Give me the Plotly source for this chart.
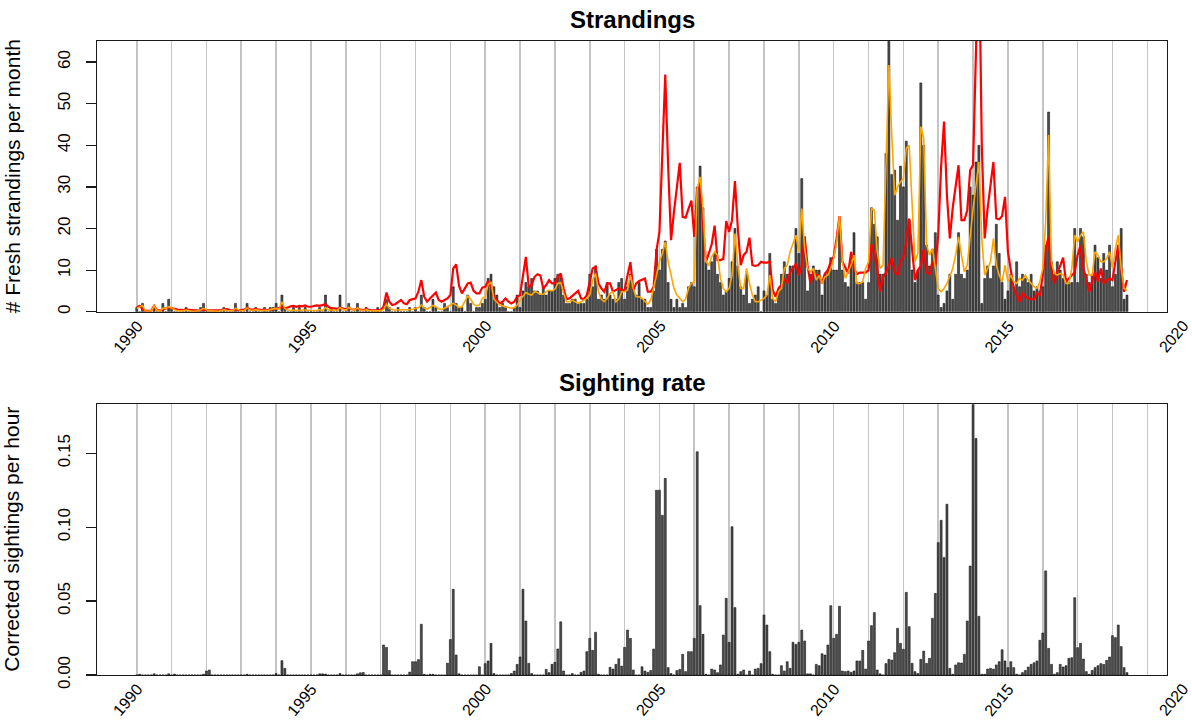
import plotly.graph_objects as go

# ---------------- data (monthly, starting January 1990) ----------------
start_year = 1990

strandings = [
    1, 0, 2, 0, 0, 0, 1, 0, 0, 2, 0, 3,        # 1990
    1, 0, 0, 0, 0, 1, 0, 0, 0, 0, 1, 2,        # 1991
    0, 0, 0, 0, 0, 0, 1, 0, 0, 0, 2, 0,        # 1992
    0, 0, 2, 0, 0, 1, 0, 0, 1, 0, 1, 1,        # 1993
    2, 0, 4, 1, 0, 0, 1, 0, 1, 0, 1, 0,        # 1994
    0, 0, 0, 1, 0, 4, 0, 1, 0, 0, 4, 0,        # 1995
    0, 2, 0, 0, 2, 0, 0, 1, 0, 0, 0, 1,        # 1996
    0, 0, 3, 1, 0, 0, 1, 0, 0, 0, 1, 0,        # 1997
    1, 0, 4, 1, 0, 0, 3, 1, 0, 0, 2, 1,        # 1998
    0, 6, 2, 1, 1, 0, 4, 2, 0, 1, 1, 2,        # 1999
    3, 8, 9, 6, 4, 1, 2, 1, 0, 0, 1, 4,        # 2000
    1, 5, 7, 6, 8, 5, 5, 4, 6, 4, 5, 5,        # 2001
    8, 9, 9, 4, 2, 2, 3, 3, 2, 2, 2, 3,        # 2002
    9, 6, 11, 3, 4, 3, 7, 4, 3, 3, 7, 8,       # 2003
    3, 6, 9, 6, 4, 7, 3, 3, 1, 1, 5, 15,       # 2004
    10, 15, 17, 7, 3, 1, 3, 1, 2, 1, 6, 7,     # 2005
    6, 30, 35, 25, 12, 10, 12, 14, 9, 7, 4, 5, # 2006
    8, 12, 20, 11, 6, 4, 9, 2, 3, 4, 6, 0,     # 2007
    5, 4, 14, 3, 2, 5, 9, 12, 9, 11, 11, 20,   # 2008
    14, 32, 18, 5, 9, 11, 10, 10, 4, 9, 10, 13,    # 2009
    10, 10, 22, 10, 7, 6, 12, 19, 7, 7, 7, 3,      # 2010
    7, 25, 21, 18, 9, 9, 38, 65, 33, 34, 22, 35,   # 2011
    30, 41, 22, 10, 7, 10, 55, 40, 16, 11, 15, 19, # 2012
    4, 1, 2, 5, 9, 3, 9, 19, 9, 8, 10, 30,         # 2013
    28, 36, 40, 2, 8, 11, 8, 11, 21, 14, 7, 3,     # 2014
    5, 9, 6, 12, 6, 9, 8, 7, 9, 5, 6, 5,           # 2015
    6, 16, 48, 12, 9, 12, 10, 8, 8, 7, 7, 20,      # 2016
    7, 20, 18, 9, 7, 9, 16, 13, 8, 14, 10, 16,     # 2017
    6, 9, 16, 20, 3, 4,                            # 2018
]

red_model = [
    1.0, 1.4, 0.6, 0.2, 0.2, 0.3, 1.4, 0.3, 0.3, 0.6, 0.8, 1.0,   # 1990
    0.9, 0.7, 0.5, 0.4, 0.4, 0.5, 0.4, 0.3, 0.3, 0.3, 0.4, 0.5,   # 1991
    0.4, 0.3, 0.3, 0.3, 0.3, 0.4, 0.5, 0.6, 0.4, 0.3, 0.6, 0.4,   # 1992
    0.4, 0.5, 0.9, 0.6, 0.5, 0.6, 0.5, 0.4, 0.5, 0.4, 0.5, 0.6,   # 1993
    0.8, 0.9, 1.2, 0.8, 1.0, 1.3, 1.4, 1.2, 1.4, 1.3, 1.5, 1.2,   # 1994
    1.2, 1.3, 1.5, 1.4, 1.6, 1.8, 1.2, 0.8, 0.8, 0.7, 1.0, 0.8,   # 1995
    0.6, 0.9, 0.6, 0.5, 0.8, 0.5, 0.4, 0.6, 0.4, 0.3, 0.3, 0.3,   # 1996
    0.4, 1.2, 4.6, 2.4, 1.6, 1.8, 2.4, 2.8, 2.0, 1.8, 2.8, 3.0,   # 1997
    3.2, 4.8, 7.6, 3.6, 2.4, 3.2, 4.0, 4.6, 2.8, 2.4, 2.8, 3.2,   # 1998
    4.0, 10.4, 11.4, 6.2, 4.4, 5.6, 6.8, 7.0, 5.0, 4.4, 4.4, 5.8, # 1999
    6.0, 7.4, 6.0, 3.6, 2.8, 2.0, 2.4, 3.2, 2.4, 2.0, 2.4, 3.6,   # 2000
    4.0, 8.8, 13.2, 6.0, 6.4, 8.4, 9.0, 8.7, 5.6, 6.4, 7.6, 6.8,  # 2001
    6.8, 8.4, 9.2, 5.6, 3.0, 3.2, 3.8, 4.4, 5.0, 3.2, 3.0, 4.0,   # 2002
    7.2, 10.4, 10.8, 6.8, 5.6, 4.8, 6.8, 6.8, 4.8, 5.2, 5.6, 5.2, # 2003
    5.2, 8.7, 11.9, 5.2, 6.8, 7.4, 7.8, 8.0, 4.8, 4.8, 6.0, 14.8, # 2004
    19.2, 36.0, 57.0, 35.0, 17.2, 24.0, 29.6, 35.8, 22.8, 22.6, 24.7, 26.7,  # 2005
    18.0, 29.6, 30.4, 20.0, 12.0, 14.0, 16.2, 20.7, 12.4, 12.4, 12.7, 21.8,  # 2006
    19.2, 22.0, 31.4, 20.0, 11.2, 13.6, 14.4, 17.8, 11.2, 11.0, 11.2, 12.0,  # 2007
    11.8, 11.8, 12.0, 5.2, 3.6, 5.6, 6.4, 8.0, 6.8, 9.5, 10.4, 11.6,         # 2008
    8.8, 11.0, 18.0, 11.0, 6.8, 9.6, 8.8, 8.7, 6.8, 9.2, 10.0, 12.0,         # 2009
    13.2, 17.6, 23.0, 12.0, 10.4, 9.2, 14.4, 10.4, 9.0, 9.4, 9.4, 9.4,       # 2010
    10.0, 16.2, 14.0, 10.4, 4.8, 8.4, 9.4, 11.2, 12.8, 9.6, 8.8, 12.0,       # 2011
    13.2, 16.8, 22.4, 15.0, 7.6, 10.0, 11.0, 15.0, 9.5, 9.0, 12.0, 11.0,     # 2012
    18.4, 35.0, 45.7, 28.0, 17.6, 25.0, 30.0, 35.2, 22.0, 22.0, 24.4, 34.0,  # 2013
    35.3, 62.0, 90.0, 40.0, 17.6, 24.8, 30.0, 36.0, 22.4, 22.2, 23.0, 27.6,  # 2014
    14.4, 10.4, 5.6, 4.0, 2.4, 4.4, 3.6, 3.2, 3.0, 3.0, 4.4, 4.0,            # 2015
    8.8, 15.0, 18.0, 10.4, 6.8, 9.6, 11.0, 13.0, 7.2, 8.0, 8.8, 9.5,         # 2016
    13.6, 16.0, 10.4, 8.0, 4.8, 7.0, 9.6, 7.2, 10.4, 6.8, 7.6, 8.0,          # 2017
    7.6, 12.0, 16.0, 10.4, 4.8, 7.6,                                         # 2018
]

orange_model = [
    0.8, 1.2, 1.5, 0.2, 0.1, 0.2, 1.4, 0.2, 0.2, 0.8, 0.8, 1.2,   # 1990
    0.8, 0.4, 0.2, 0.2, 0.2, 0.4, 0.2, 0.1, 0.1, 0.2, 0.4, 0.8,   # 1991
    0.4, 0.2, 0.2, 0.1, 0.1, 0.2, 0.5, 0.3, 0.2, 0.2, 0.8, 0.4,   # 1992
    0.2, 0.3, 0.9, 0.4, 0.3, 0.5, 0.3, 0.2, 0.4, 0.3, 0.5, 0.6,   # 1993
    0.8, 0.6, 2.4, 0.8, 0.4, 0.3, 0.4, 0.3, 0.4, 0.4, 0.4, 0.3,   # 1994
    0.3, 0.3, 0.3, 0.5, 0.3, 1.0, 0.4, 0.4, 0.3, 0.3, 1.0, 0.5,   # 1995
    0.4, 1.0, 0.6, 0.4, 0.9, 0.4, 0.3, 0.5, 0.3, 0.2, 0.2, 0.2,   # 1996
    0.2, 0.6, 1.8, 0.8, 0.5, 0.4, 0.4, 0.5, 0.5, 0.4, 0.5, 0.6,   # 1997
    0.8, 1.0, 1.6, 0.9, 0.6, 1.0, 1.5, 1.2, 0.7, 0.5, 0.8, 1.2,   # 1998
    1.6, 2.0, 1.6, 1.0, 1.2, 2.4, 3.8, 3.0, 1.8, 1.4, 1.6, 3.2,   # 1999
    3.6, 6.5, 7.2, 3.0, 2.2, 1.6, 1.4, 1.2, 1.0, 0.8, 1.0, 1.6,   # 2000
    2.8, 3.8, 4.6, 4.2, 4.0, 4.8, 4.6, 4.2, 4.2, 4.8, 5.2, 5.0,   # 2001
    5.4, 6.8, 7.0, 4.5, 2.4, 2.4, 2.8, 2.4, 2.0, 2.4, 2.8, 3.2,   # 2002
    4.0, 7.5, 9.2, 4.8, 3.0, 2.4, 3.2, 4.4, 4.8, 2.4, 3.0, 4.8,   # 2003
    4.8, 5.2, 8.8, 5.6, 3.6, 3.6, 3.2, 2.4, 1.8, 2.8, 5.6, 8.8,   # 2004
    12.0, 14.0, 16.8, 12.0, 8.8, 5.6, 4.0, 3.2, 2.4, 3.0, 5.6, 6.8,          # 2005
    7.2, 29.6, 32.4, 24.8, 12.0, 11.2, 13.2, 14.4, 13.6, 8.0, 5.6, 4.8,      # 2006
    5.6, 8.8, 18.8, 11.2, 5.6, 5.6, 10.4, 6.8, 4.0, 2.4, 2.4, 2.8,           # 2007
    3.2, 4.0, 8.8, 3.2, 2.4, 4.8, 5.6, 10.4, 11.2, 14.4, 16.4, 18.4,         # 2008
    14.4, 24.8, 15.2, 10.4, 9.6, 10.4, 7.6, 8.7, 6.8, 8.4, 8.8, 10.4,        # 2009
    12.8, 16.8, 23.0, 12.0, 8.0, 9.6, 11.2, 13.6, 6.8, 6.8, 7.2, 10.4,       # 2010
    12.0, 24.8, 24.4, 14.4, 10.4, 11.2, 37.6, 59.3, 42.5, 28.0, 30.0, 31.2,  # 2011
    32.0, 39.3, 40.0, 24.8, 12.0, 14.0, 44.5, 41.7, 16.0, 13.6, 15.2, 10.4,  # 2012
    5.6, 4.8, 5.6, 6.8, 8.4, 10.4, 13.6, 18.0, 13.6, 9.6, 11.2, 18.4,        # 2013
    24.8, 30.4, 36.0, 17.6, 8.8, 10.4, 12.0, 17.6, 11.2, 8.8, 7.2, 11.2,     # 2014
    7.2, 8.8, 7.2, 6.8, 8.0, 7.6, 8.8, 7.6, 6.8, 6.0, 5.6, 7.2,              # 2015
    10.4, 21.6, 42.5, 12.0, 9.2, 8.8, 9.2, 8.8, 6.8, 6.8, 10.4, 18.4,        # 2016
    16.8, 18.4, 19.2, 12.0, 8.8, 8.8, 14.4, 13.6, 12.0, 12.0, 12.8, 14.4,    # 2017
    10.4, 15.2, 18.4, 10.4, 5.6, 5.2,                                        # 2018
]

sightings = [
    0, 0.0005, 0, 0, 0, 0, 0.0008, 0, 0, 0, 0, 0.0008,                       # 1990
    0, 0.0006, 0, 0, 0, 0, 0, 0, 0, 0, 0, 0.0005,                            # 1991
    0.0027, 0.0034, 0, 0, 0, 0, 0, 0, 0, 0, 0, 0,                            # 1992
    0, 0, 0.0005, 0, 0, 0, 0, 0, 0, 0, 0, 0,                                 # 1993
    0.001, 0, 0.0097, 0.0045, 0, 0, 0, 0, 0, 0, 0, 0,                        # 1994
    0, 0, 0, 0.0008, 0.0008, 0.0006, 0, 0, 0, 0, 0.001, 0,                   # 1995
    0, 0, 0, 0, 0.0008, 0.0015, 0.0017, 0, 0, 0, 0, 0,                       # 1996
    0, 0.0203, 0.0187, 0.003, 0, 0, 0, 0, 0, 0, 0.002, 0.009,                # 1997
    0.009, 0.0104, 0.0343, 0.0005, 0, 0.0005, 0.0005, 0, 0, 0, 0, 0.008,     # 1998
    0.024, 0.058, 0.0135, 0.0008, 0, 0, 0, 0, 0, 0, 0.0056, 0,               # 1999
    0.0077, 0.0095, 0.0214, 0.001, 0, 0, 0, 0, 0, 0.001, 0.0027, 0.0072,     # 2000
    0.0122, 0.058, 0.0365, 0.0079, 0.001, 0, 0, 0, 0, 0.0038, 0.0016, 0.0072,  # 2001
    0.0086, 0.0176, 0.036, 0.0027, 0, 0, 0.001, 0, 0, 0.0018, 0.0027, 0.0158,  # 2002
    0.0248, 0.0167, 0.0289, 0.0005, 0, 0, 0, 0.0052, 0.004, 0.0072, 0.011, 0.006,  # 2003
    0.0187, 0.0304, 0.0248, 0.0034, 0, 0, 0.0056, 0.0027, 0.0018, 0.003, 0.0176, 0.125,  # 2004
    0.125, 0.108, 0.133, 0.005, 0.001, 0, 0.003, 0.0038, 0.014, 0.0023, 0.0158, 0.0158,  # 2005
    0.0248, 0.151, 0.0469, 0.0275, 0.0005, 0, 0.004, 0.0034, 0.0016, 0.0068, 0.027, 0.0519,  # 2006
    0.0221, 0.1003, 0.0456, 0.0005, 0.0023, 0.0034, 0, 0.0027, 0, 0.004, 0.0045, 0.0077,  # 2007
    0.0406, 0.0338, 0.0158, 0.0005, 0, 0, 0.0063, 0.0027, 0.009, 0.0045, 0.0221, 0.0207,  # 2008
    0.0221, 0.0304, 0.023, 0.0008, 0.0008, 0, 0.0072, 0.0063, 0.0144, 0.0135, 0.0203, 0.0469,  # 2009
    0.0248, 0.0275, 0.0465, 0.0027, 0.0023, 0.0027, 0.0018, 0.0027, 0.0095, 0.0095, 0.0167, 0.004,  # 2010
    0.023, 0.0334, 0.0422, 0.0034, 0.0008, 0, 0.0077, 0.0106, 0.0101, 0.0151, 0.0316, 0.0214,  # 2011
    0.0174, 0.0559, 0.0327, 0.0079, 0.0023, 0.001, 0.0106, 0.0162, 0.0079, 0.0113, 0.0383, 0.0552,  # 2012
    0.0895, 0.1046, 0.0794, 0.1155, 0.0045, 0.0005, 0.0068, 0.0083, 0.0081, 0.014, 0.0365, 0.0737,  # 2013
    0.183, 0.160, 0.0397, 0.0005, 0.0005, 0.004, 0.0045, 0.004, 0.0068, 0.009, 0.0171, 0.0095,  # 2014
    0.005, 0.009, 0.005, 0.0005, 0, 0.0016, 0.0031, 0.0054, 0.0072, 0.0083, 0.0095, 0.0235,  # 2015
    0.0284, 0.0704, 0.018, 0.0072, 0.0005, 0.0016, 0.0072, 0.0054, 0.0063, 0.0113, 0.0117, 0.0523,  # 2016
    0.0185, 0.0214, 0.0108, 0.0023, 0.0005, 0.0031, 0.005, 0.0063, 0.0077, 0.0072, 0.0099, 0.0122,  # 2017
    0.0266, 0.0253, 0.0338, 0.0192, 0.005, 0.0016,                           # 2018
]

label_years = [1990, 1995, 2000, 2005, 2010, 2015, 2020]
grid_years = list(range(1990, 2020))
strand_ticks = [0, 10, 20, 30, 40, 50, 60]
sight_ticks = [0.0, 0.05, 0.10, 0.15]
titles = ["Strandings", "Sighting rate"]
ytitles = ["# Fresh strandings per month", "Corrected sightings per hour"]

# ---------------- figure ----------------
n = min(len(strandings), len(red_model), len(orange_model), len(sightings))
months = [start_year + k / 12.0 for k in range(n)]

X_RANGE = [1988.86, 2019.565]
FONT = "Liberation Sans, Arial, Helvetica, sans-serif"
BAR_W = 0.0574
BAR_FILL = "#4d4d4d"

fig = go.Figure()
fig.add_trace(go.Bar(x=months, y=strandings[:n], width=BAR_W,
                     marker=dict(color=BAR_FILL, line=dict(color="#000000", width=0.5)),
                     xaxis="x", yaxis="y", showlegend=False))
fig.add_trace(go.Scatter(x=months, y=red_model[:n], mode="lines",
                         line=dict(color="#FF0000", width=2.2),
                         xaxis="x", yaxis="y", showlegend=False))
fig.add_trace(go.Scatter(x=months, y=orange_model[:n], mode="lines",
                         line=dict(color="#FFA500", width=1.6),
                         xaxis="x", yaxis="y", showlegend=False))
fig.add_trace(go.Bar(x=months, y=sightings[:n], width=BAR_W,
                     marker=dict(color=BAR_FILL, line=dict(color="#000000", width=0.5)),
                     xaxis="x2", yaxis="y2", showlegend=False))

common_x = dict(range=X_RANGE, tickvals=grid_years, showticklabels=False, ticks="",
                showgrid=True, gridcolor="#C4C4C4", gridwidth=1.6, zeroline=False,
                showline=True, mirror=True, linecolor="#1a1a1a", linewidth=1.3)
common_y = dict(ticks="outside", ticklen=10, tickwidth=1.2, tickcolor="#1a1a1a",
                tickangle=-90, showgrid=False, zeroline=False, showline=True, mirror=True,
                linecolor="#1a1a1a", linewidth=1.3,
                tickfont=dict(family=FONT, size=17, color="#000000"),
                ticklabelstandoff=9)

fig.update_layout(
    width=1192, height=720,
    margin=dict(l=97, r=25, t=41, b=45, pad=0),
    paper_bgcolor="white", plot_bgcolor="white",
    bargap=0,
    xaxis=dict(domain=[0, 1], anchor="y", **common_x),
    yaxis=dict(domain=[0.573, 1.0], anchor="x", range=[0, 65.07],
               tickvals=strand_ticks, ticktext=[str(v) for v in strand_ticks], **common_y),
    xaxis2=dict(domain=[0, 1], anchor="y2", **common_x),
    yaxis2=dict(domain=[0.0, 0.427], anchor="x2", range=[0, 0.1831],
                tickvals=sight_ticks, ticktext=["%.2f" % v for v in sight_ticks], **common_y),
)

annotations = []
span = X_RANGE[1] - X_RANGE[0]
for yref in ["y domain", "y2 domain"]:
    for yr in label_years:
        annotations.append(dict(
            x=(yr - X_RANGE[0]) / span, xref="paper", xanchor="right",
            y=0, yref=yref, yanchor="top", xshift=11, yshift=-4, borderpad=0,
            text=str(yr), showarrow=False, textangle=-50,
            font=dict(family=FONT, size=16, color="#000000")))
for title, ytitle, yref in zip(titles, ytitles, ["y domain", "y2 domain"]):
    annotations.append(dict(
        x=0.5, xref="paper", y=1, yref=yref, yanchor="middle", yshift=22,
        text="<b>%s</b>" % title, showarrow=False,
        font=dict(family=FONT, size=24, color="#000000")))
    annotations.append(dict(
        x=0, xref="paper", xanchor="center", xshift=-85,
        y=0.5, yref=yref, yanchor="middle",
        text=ytitle, showarrow=False, textangle=-90,
        font=dict(family=FONT, size=21, color="#000000")))
fig.update_layout(annotations=annotations)

# remove the default 8 px page margin so the figure fills the window exactly
fig.write_html("out.html",
               config={"displayModeBar": False, "staticPlot": True},
               post_script="document.body.style.margin='0px';document.body.style.overflow='hidden';")
